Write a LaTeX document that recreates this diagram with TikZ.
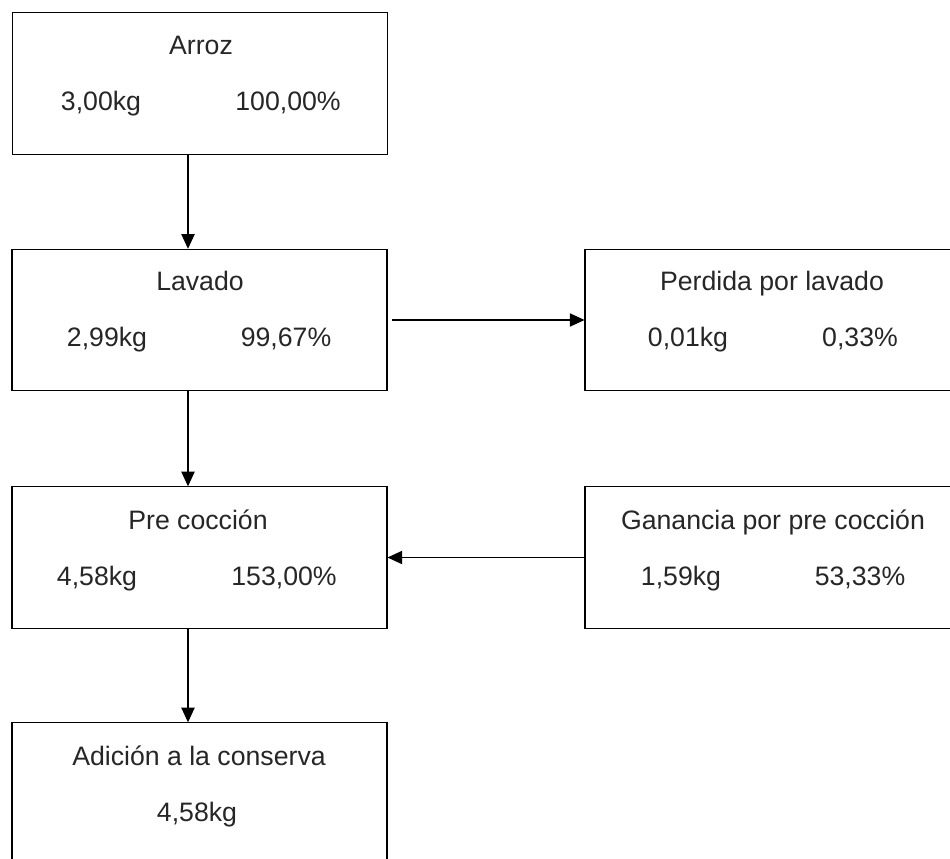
\documentclass[tikz,border=0pt]{standalone}
\usepackage{fontspec}
\setmainfont{Liberation Sans}
\usepackage{tikz}
\usetikzlibrary{arrows.meta, positioning}
\tikzstyle{caja} = [draw, line width=0.8pt, rectangle, minimum width=281.25pt, minimum height=106pt, inner sep=0pt]
\tikzstyle{texto} = [anchor=base, inner sep=0pt, font=\fontsize{20}{24}\selectfont, text=black!85]
\tikzstyle{flecha} = [line width=0.8pt, -{Triangle[length=11pt, width=10pt]}]

\begin{document}
\begin{tikzpicture}[x=0.75pt, y=-0.75pt]
	\useasboundingbox (0,0) rectangle (950,859);
	% cajas
	\node[caja] (arroz) at (200,83.5) {};
	\node[caja] (lavado) at (199.5,320) {};
	\node[caja] (perdida) at (772.5,320) {};
	\node[caja] (pre) at (199.5,557.5) {};
	\node[caja] (ganancia) at (772.5,557.5) {};
	\node[caja] (adicion) at (199.5,793.5) {};
	% textos
	\node[texto] (arrozT) at (201,55) {Arroz};
	\node[texto] (arrozKg) at (101,111) {3,00kg};
	\node[texto] (arrozP) at (288,111) {100,00\%};
	\node[texto] (lavadoT) at (200,291) {Lavado};
	\node[texto] (lavadoKg) at (107,347) {2,99kg};
	\node[texto] (lavadoP) at (286,347) {99,67\%};
	\node[texto] (perdidaT) at (772,291) {Perdida por lavado};
	\node[texto] (perdidaKg) at (688,347) {0,01kg};
	\node[texto] (perdidaP) at (860,347) {0,33\%};
	\node[texto] (preT) at (198,529) {Pre cocción};
	\node[texto] (preKg) at (97,585) {4,58kg};
	\node[texto] (preP) at (284,585) {153,00\%};
	\node[texto] (gananciaT) at (773,529) {Ganancia por pre cocción};
	\node[texto] (gananciaKg) at (681,585) {1,59kg};
	\node[texto] (gananciaP) at (860,585) {53,33\%};
	\node[texto] (adicionT) at (199,765) {Adición a la conserva};
	\node[texto] (adicionKg) at (197,821) {4,58kg};
	% flechas
	\coordinate (eje) at (188,0);
	\draw[flecha] (arroz.south -| eje) -- (lavado.north -| eje);
	\draw[flecha] (lavado.south -| eje) -- (pre.north -| eje);
	\draw[flecha] (pre.south -| eje) -- (adicion.north -| eje);
	\draw[flecha] ([xshift=3pt]lavado.east) -- (perdida.west);
	\draw[flecha] (ganancia.west) -- (pre.east);
\end{tikzpicture}
\end{document}
